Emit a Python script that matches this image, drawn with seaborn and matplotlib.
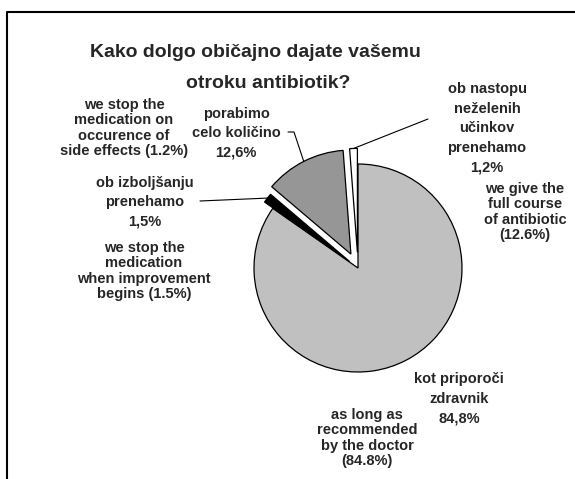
import numpy as np
import matplotlib.pyplot as plt
import seaborn as sns

# data (order: clockwise from 12 o'clock)
shares = [84.8, 1.5, 12.6, 1.2]
answers_sl = ["kot priporoči\nzdravnik",
              "ob izboljšanju\nprenehamo",
              "porabimo\ncelo količino",
              "ob nastopu\nneželenih\nučinkov\nprenehamo"]
answers_en = ["as long as\nrecommended\nby the doctor",
              "we stop the\nmedication\nwhen improvement\nbegins",
              "we give the\nfull course\nof antibiotic",
              "we stop the\nmedication on\noccurence of\nside effects"]
en_sep = ["\n", " ", "\n", " "]
title_lines = ["Kako dolgo običajno dajate vašemu", "otroku antibiotik?"]

sns.set_theme(style="white")
plt.rcParams['font.family'] = ['Liberation Sans', 'DejaVu Sans']
colors = sns.color_palette(["#c0c0c0", "#000000", "#969696", "#ffffff"])

W, H = 575, 479
fig = plt.figure(figsize=(W / 100, H / 100), dpi=100)
ax = fig.add_axes([0, 0, 1, 1])

def py(y):
    # pixel row -> data y
    return H - y

R = 104
wedges, _ = ax.pie(shares, colors=colors, startangle=90, counterclock=False,
                   explode=[0, 0.1 * R, 0.15 * R, 0.15 * R], radius=R,
                   center=(358, py(268)), frame=True,
                   wedgeprops=dict(edgecolor="black", linewidth=0.9))
ax.set_xlim(0, W)
ax.set_ylim(0, H)
ax.set_aspect("equal")
ax.axis("off")

# title
ax.text(255, py(52), title_lines[0], ha="center", va="center",
        fontsize=14, fontweight="bold")
ax.text(268, py(83), title_lines[1], ha="center", va="center",
        fontsize=14, fontweight="bold")

sl_pos = [(459, 399), (145, 202), (236, 133), (487, 128)]
en_pos = [(367, 438), (144, 271), (525, 212), (124, 128)]

for i, v in enumerate(shares):
    sl = answers_sl[i] + "\n" + f"{v:.1f}%".replace(".", ",")
    en = answers_en[i] + en_sep[i] + f"({v:.1f}%)"
    x, y = sl_pos[i]
    ax.text(x, py(y), sl, ha="center", va="center", fontsize=10.5,
            fontweight="bold", linespacing=1.5)
    x, y = en_pos[i]
    ax.text(x, py(y), en, ha="center", va="center", fontsize=10.5,
            fontweight="bold", linespacing=1.15)

def edge_point(w):
    t = np.deg2rad((w.theta1 + w.theta2) / 2)
    return w.center[0] + w.r * np.cos(t), w.center[1] + w.r * np.sin(t)

# leader lines
bx, by = edge_point(wedges[1])
ax.plot([200, bx], [py(201), by], color="black", lw=0.8)
gx, gy = edge_point(wedges[2])
ax.plot([288, 294, gx], [py(132), py(132), gy], color="black", lw=0.8)
wx, wy = edge_point(wedges[3])
ax.plot([wx, 428], [wy, py(119)], color="black", lw=0.8)

# frame cut off at right and bottom
fig.add_artist(plt.Line2D([7 / W, 7 / W, 1.0], [0.0, 1 - 12 / H, 1 - 12 / H],
                          transform=fig.transFigure, color="black", lw=1.5))

plt.savefig("out.png", dpi=100)
